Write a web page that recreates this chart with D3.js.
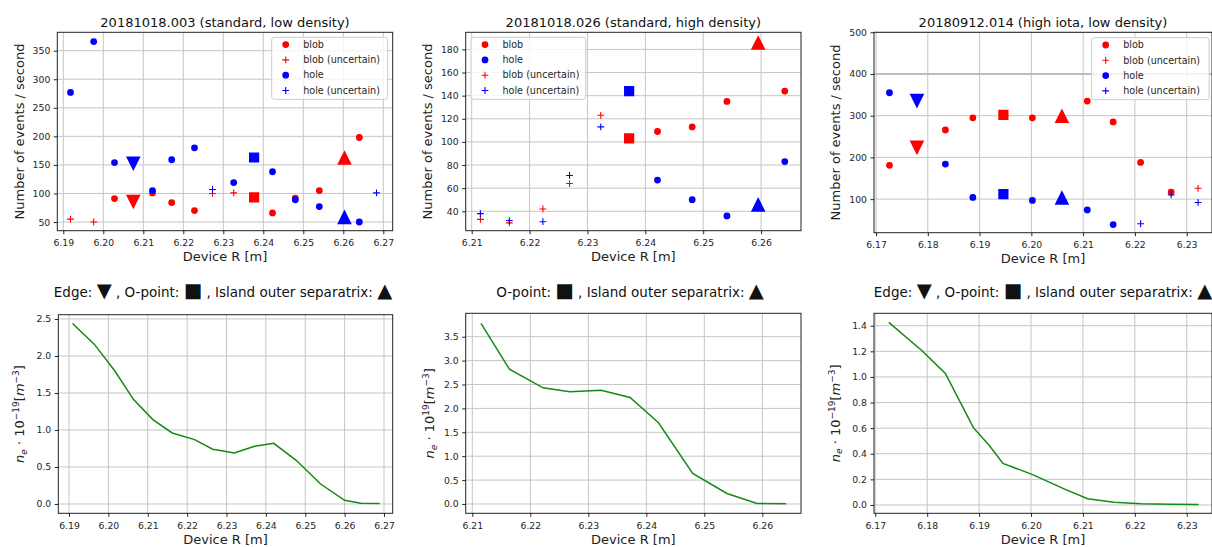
<!DOCTYPE html>
<html>
<head>
<meta charset="utf-8">
<script src="https://cdn.jsdelivr.net/npm/d3@7/dist/d3.min.js"></script>
<style>
  body { margin: 0; background: #fff; }
  svg text { font-family: "DejaVu Sans", sans-serif; }
</style>
</head>
<body>
<svg id="chart" width="1212" height="547"></svg>
<script>
// ---------------- data ----------------
// Shot 20181018.003 (standard, low density): [R (m), events / s]
const s003Blob      = [[6.2028, 91], [6.2123, 101], [6.2171, 84], [6.2228, 70], [6.2423, 66], [6.2480, 92], [6.2540, 105], [6.2640, 198]];
const s003BlobUnc   = [[6.1918, 55], [6.1976, 50], [6.2273, 100], [6.2326, 101]];
const s003Hole      = [[6.1918, 277], [6.1976, 366], [6.2028, 154], [6.2123, 105], [6.2171, 159], [6.2228, 180], [6.2326, 119], [6.2423, 138], [6.2480, 89], [6.2540, 77], [6.2640, 50]];
const s003HoleUnc   = [[6.2273, 107], [6.2683, 101]];
// special positions: [R, blob rate, hole rate]
const s003Edge      = [6.2075, 85, 152];
const s003OPoint    = [6.2377, 93, 163];
const s003Sep       = [6.2603, 163, 59];
const s003DensR     = [6.1909, 6.1964, 6.2016, 6.2064, 6.2113, 6.2162, 6.2219, 6.2265, 6.2320, 6.2371, 6.2420, 6.2477, 6.2539, 6.2600, 6.2641, 6.2689];
const s003Dens      = [2.44, 2.16, 1.80, 1.41, 1.14, 0.96, 0.87, 0.74, 0.69, 0.78, 0.82, 0.59, 0.27, 0.05, 0.01, 0.005];

// Shot 20181018.026 (standard, high density)
const s026Blob      = [[6.2421, 109], [6.2481, 113], [6.2541, 135], [6.2641, 144]];
const s026Hole      = [[6.2421, 67], [6.2481, 50], [6.2541, 36], [6.2641, 83]];
const s026BlobUnc   = [[6.2115, 33], [6.2165, 30], [6.2223, 42], [6.2269, 64], [6.2323, 123]];
const s026HoleUnc   = [[6.2115, 38], [6.2165, 32], [6.2223, 31], [6.2269, 71], [6.2323, 113]];
const s026OPoint    = [6.2372, 103, 144];
const s026Sep       = [6.2595, 186, 46];
const s026DensR     = [6.2115, 6.2164, 6.2222, 6.2268, 6.2322, 6.2372, 6.2421, 6.2480, 6.2539, 6.2591, 6.2641];
const s026Dens      = [3.78, 2.82, 2.43, 2.35, 2.38, 2.23, 1.70, 0.64, 0.22, 0.01, 0.007];

// Shot 20180912.014 (high iota, low density)
const s014Blob      = [[6.1726, 181], [6.1834, 266], [6.1887, 295], [6.2002, 295], [6.2108, 335], [6.2158, 285], [6.2211, 188], [6.2270, 117]];
const s014BlobUnc   = [[6.2322, 126]];
const s014Hole      = [[6.1726, 355], [6.1834, 184], [6.1887, 104], [6.2002, 97], [6.2108, 74], [6.2158, 39]];
const s014HoleUnc   = [[6.2211, 41], [6.2270, 110], [6.2322, 92]];
const s014Edge      = [6.1779, 223, 335];
const s014OPoint    = [6.1946, 302, 112];
const s014Sep       = [6.2059, 300, 104];
const s014RefLevel  = 400;
const s014DensR     = [6.1726, 6.1790, 6.1835, 6.1889, 6.1920, 6.1946, 6.2003, 6.2066, 6.2109, 6.2160, 6.2212, 6.2271, 6.2323];
const s014Dens      = [1.426, 1.205, 1.028, 0.604, 0.463, 0.325, 0.237, 0.122, 0.049, 0.021, 0.010, 0.005, 0.003];

// tick values
const ticksR003 = [6.19, 6.20, 6.21, 6.22, 6.23, 6.24, 6.25, 6.26, 6.27];
const ticksR026 = [6.21, 6.22, 6.23, 6.24, 6.25, 6.26];
const ticksR014 = [6.17, 6.18, 6.19, 6.20, 6.21, 6.22, 6.23];
const ticksRate003 = [50, 100, 150, 200, 250, 300, 350];
const ticksRate026 = [40, 60, 80, 100, 120, 140, 160, 180];
const ticksRate014 = [100, 200, 300, 400, 500];
const ticksDens003 = [0.0, 0.5, 1.0, 1.5, 2.0, 2.5];
const ticksDens026 = [0.0, 0.5, 1.0, 1.5, 2.0, 2.5, 3.0, 3.5];
const ticksDens014 = [0.0, 0.2, 0.4, 0.6, 0.8, 1.0, 1.2, 1.4];

const titles = ["20181018.003 (standard, low density)", "20181018.026 (standard, high density)", "20180912.014 (high iota, low density)"];

// ---------------- drawing ----------------
const RED = "#ff0000", BLUE = "#0000ff", GREEN = "#138a13";
const svg = d3.select("#chart");
let clipId = 0;

function makeAxes(box, xDomain, yDomain, xTicks, yTicks, yFmt) {
  const x = d3.scaleLinear().domain(xDomain).range([box.x0, box.x1]);
  const y = d3.scaleLinear().domain(yDomain).range([box.y1, box.y0]);
  const g = svg.append("g");
  const id = "clip" + (clipId++);
  g.append("clipPath").attr("id", id).append("rect")
    .attr("x", box.x0).attr("y", box.y0).attr("width", box.x1 - box.x0).attr("height", box.y1 - box.y0);

  const grid = g.append("g").attr("stroke", "#c6c6c6").attr("stroke-width", 1);
  grid.selectAll(".gx").data(xTicks).join("line")
    .attr("x1", d => x(d)).attr("x2", d => x(d)).attr("y1", box.y0).attr("y2", box.y1);
  grid.selectAll(".gy").data(yTicks).join("line")
    .attr("x1", box.x0).attr("x2", box.x1).attr("y1", d => y(d)).attr("y2", d => y(d));

  const xa = g.append("g").attr("transform", `translate(0,${box.y1})`)
    .call(d3.axisBottom(x).tickValues(xTicks).tickFormat(d3.format(".2f")).tickSize(3.5).tickPadding(5.5));
  const ya = g.append("g").attr("transform", `translate(${box.x0},0)`)
    .call(d3.axisLeft(y).tickValues(yTicks).tickFormat(yFmt).tickSize(3.5).tickPadding(3.5));
  [xa, ya].forEach(a => {
    a.select(".domain").remove();
    a.attr("font-family", null).attr("font-size", null);
    a.selectAll("line").attr("stroke", "#222");
    a.selectAll("text").attr("font-size", "9.3px").attr("fill", "#262626");
  });

  const plot = g.append("g").attr("clip-path", `url(#${id})`);
  const frame = () => g.append("rect")
    .attr("x", box.x0).attr("y", box.y0).attr("width", box.x1 - box.x0).attr("height", box.y1 - box.y0)
    .attr("fill", "none").attr("stroke", "#222").attr("stroke-width", 1);
  return { x, y, g, plot, box, frame };
}

// marker shapes (centred on their bounding box)
const shapes = {
  circle: r => `M${r},0A${r},${r} 0 1,1 ${-r},0A${r},${r} 0 1,1 ${r},0Z`,
  up: s => `M0,${-s}L${s},${s}L${-s},${s}Z`,
  down: s => `M0,${s}L${s},${-s}L${-s},${-s}Z`,
  square: s => `M${-s},${-s}H${s}V${s}H${-s}Z`,
  plus: h => `M${-h},0H${h}M0,${-h}V${h}`
};

function dots(ax, data, color) {
  ax.plot.append("g").selectAll("path").data(data).join("path")
    .attr("d", shapes.circle(3.4)).attr("fill", color)
    .attr("transform", d => `translate(${ax.x(d[0])},${ax.y(d[1])})`);
}
function pluses(ax, data, color) {
  ax.plot.append("g").selectAll("path").data(data).join("path")
    .attr("d", shapes.plus(3.4)).attr("stroke", color).attr("stroke-width", 1.1).attr("fill", "none")
    .attr("transform", d => `translate(${ax.x(d[0])},${ax.y(d[1])})`);
}
function special(ax, entry, shape, size) {
  const [r, blob, hole] = entry;
  [[blob, RED], [hole, BLUE]].forEach(([v, c]) => {
    ax.plot.append("path").attr("d", shapes[shape](size)).attr("fill", c)
      .attr("transform", `translate(${ax.x(r)},${ax.y(v)})`);
  });
}

function legend(ax, left, top, width, items) {
  const lg = ax.g.append("g");
  lg.append("rect").attr("x", left).attr("y", top).attr("width", width).attr("height", 62)
    .attr("rx", 2.5).attr("fill", "#fff").attr("fill-opacity", 0.8).attr("stroke", "#cccccc");
  items.forEach((it, i) => {
    const cy = top + 7.3 + i * 15.3;
    const mx = left + 14;
    if (it.kind === "dot") lg.append("path").attr("d", shapes.circle(3.4)).attr("fill", it.color).attr("transform", `translate(${mx},${cy})`);
    else lg.append("path").attr("d", shapes.plus(3.4)).attr("stroke", it.color).attr("stroke-width", 1.1).attr("fill", "none")
      .attr("transform", `translate(${mx},${cy})`);
    lg.append("text").attr("x", left + 31.5).attr("y", cy).attr("dy", "0.34em")
      .attr("font-size", "9.6px").attr("fill", "#262626").text(it.label);
  });
}

function titleText(ax, txt) {
  ax.g.append("text").attr("x", (ax.box.x0 + ax.box.x1) / 2).attr("y", ax.box.y0 - 5.8)
    .attr("text-anchor", "middle").attr("font-size", "13px").attr("fill", "#111").text(txt);
}
function xLabel(ax) {
  ax.g.append("text").attr("x", (ax.box.x0 + ax.box.x1) / 2).attr("y", ax.box.y1 + 30.5)
    .attr("text-anchor", "middle").attr("font-size", "13px").attr("fill", "#222").text("Device R [m]");
}
function yLabelRate(ax, bx) {
  ax.g.append("text").attr("transform", `translate(${bx},${(ax.box.y0 + ax.box.y1) / 2}) rotate(-90)`)
    .attr("text-anchor", "middle").attr("font-size", "13px").attr("fill", "#222").text("Number of events / second");
}
function yLabelDens(ax, bx, expo) {
  const t = ax.g.append("text").attr("transform", `translate(${bx},${(ax.box.y0 + ax.box.y1) / 2}) rotate(-90)`)
    .attr("text-anchor", "middle").attr("font-size", "13px").attr("fill", "#222");
  t.append("tspan").attr("font-style", "italic").text("n");
  t.append("tspan").attr("font-style", "italic").attr("font-size", "9px").attr("dy", 2.5).text("e");
  t.append("tspan").attr("dy", -2.5).text(" · 10");
  t.append("tspan").attr("font-size", "9px").attr("dy", -5).text(expo);
  t.append("tspan").attr("dy", 5).text("[");
  t.append("tspan").attr("font-style", "italic").text("m");
  t.append("tspan").attr("font-size", "9px").attr("dy", -5).text("−3");
  t.append("tspan").attr("dy", 5).text("]");
}
// marker key line above each density panel
function markerKey(cx, parts) {
  const t = svg.append("text").attr("x", cx).attr("y", 297).attr("text-anchor", "middle")
    .attr("font-family", "'Open Sans', sans-serif").attr("fill", "#111");
  parts.forEach(p => p.sym
    ? t.append("tspan").attr("font-family", "'DejaVu Sans'").attr("font-size", "19.5px").text(p.sym)
    : t.append("tspan").attr("font-size", "13.5px").text(p.txt));
}
function densityLine(ax, rs, vs) {
  ax.plot.append("path").datum(d3.zip(rs, vs))
    .attr("d", d3.line().x(d => ax.x(d[0])).y(d => ax.y(d[1])))
    .attr("fill", "none").attr("stroke", GREEN).attr("stroke-width", 1.5);
}

const fmtInt = d3.format("d"), fmt1 = d3.format(".1f");

// ---- top row: event rates ----
const a1 = makeAxes({ x0: 57.3, x1: 392.7, y0: 32.3, y1: 230.7 }, [6.1885, 6.27235], [34.8, 382.2], ticksR003, ticksRate003, fmtInt);
dots(a1, s003Blob, RED); pluses(a1, s003BlobUnc, RED); dots(a1, s003Hole, BLUE); pluses(a1, s003HoleUnc, BLUE);
special(a1, s003Edge, "down", 7.3); special(a1, s003OPoint, "square", 5.1); special(a1, s003Sep, "up", 7.3);
a1.frame();
legend(a1, 271.7, 37.3, 116, [
  { kind: "dot", color: RED, label: "blob" }, { kind: "plus", color: RED, label: "blob (uncertain)" },
  { kind: "dot", color: BLUE, label: "hole" }, { kind: "plus", color: BLUE, label: "hole (uncertain)" }]);
titleText(a1, titles[0]); xLabel(a1); yLabelRate(a1, 24);

const a2 = makeAxes({ x0: 465.7, x1: 801, y0: 32.3, y1: 230.7 }, [6.20896, 6.2669], [23.2, 194.8], ticksR026, ticksRate026, fmtInt);
dots(a2, s026Blob, RED); dots(a2, s026Hole, BLUE); pluses(a2, s026BlobUnc, RED); pluses(a2, s026HoleUnc, BLUE);
special(a2, s026OPoint, "square", 5.1); special(a2, s026Sep, "up", 7.3);
a2.frame();
legend(a2, 471, 37.3, 114.7, [
  { kind: "dot", color: RED, label: "blob" }, { kind: "dot", color: BLUE, label: "hole" },
  { kind: "plus", color: RED, label: "blob (uncertain)" }, { kind: "plus", color: BLUE, label: "hole (uncertain)" }]);
titleText(a2, titles[1]); xLabel(a2); yLabelRate(a2, 432);

const a3 = makeAxes({ x0: 874, x1: 1212, y0: 32.3, y1: 232.7 }, [6.16961, 6.23489], [19.5, 500], ticksR014, ticksRate014, fmtInt);
a3.plot.append("line").attr("x1", a3.box.x0).attr("x2", a3.box.x1)
  .attr("y1", a3.y(s014RefLevel)).attr("y2", a3.y(s014RefLevel)).attr("stroke", "#bdbdbd").attr("stroke-width", 2);
dots(a3, s014Blob, RED); pluses(a3, s014BlobUnc, RED); dots(a3, s014Hole, BLUE); pluses(a3, s014HoleUnc, BLUE);
special(a3, s014Edge, "down", 7.3); special(a3, s014OPoint, "square", 5.1); special(a3, s014Sep, "up", 7.3);
a3.frame();
legend(a3, 1091.7, 37.7, 117.5, [
  { kind: "dot", color: RED, label: "blob" }, { kind: "plus", color: RED, label: "blob (uncertain)" },
  { kind: "dot", color: BLUE, label: "hole" }, { kind: "plus", color: BLUE, label: "hole (uncertain)" }]);
titleText(a3, titles[2]); xLabel(a3); yLabelRate(a3, 839.5);

// ---- marker keys ----
const keyFull = [{ txt: "Edge: " }, { sym: "▼" }, { txt: " , O-point: " }, { sym: "■" }, { txt: " , Island outer separatrix: " }, { sym: "▲" }];
const keyNoEdge = [{ txt: "O-point: " }, { sym: "■" }, { txt: " , Island outer separatrix: " }, { sym: "▲" }];
markerKey(223, keyFull);
markerKey(630, keyNoEdge);
markerKey(1043, keyFull);

// ---- bottom row: density profiles ----
const b1 = makeAxes({ x0: 58.3, x1: 392.7, y0: 314.7, y1: 513.3 }, [6.18728, 6.27221], [-0.126, 2.558], ticksR003, ticksDens003, fmt1);
densityLine(b1, s003DensR, s003Dens); b1.frame(); xLabel(b1); yLabelDens(b1, 24, "−19");

const b2 = makeAxes({ x0: 465.7, x1: 801, y0: 313.3, y1: 513.3 }, [6.20886, 6.26667], [-0.195, 3.99], ticksR026, ticksDens026, fmt1);
densityLine(b2, s026DensR, s026Dens); b2.frame(); xLabel(b2); yLabelDens(b2, 434, "19");

const b3 = makeAxes({ x0: 874, x1: 1212, y0: 313.3, y1: 513.3 }, [6.16975, 6.23487], [-0.065, 1.497], ticksR014, ticksDens014, fmt1);
densityLine(b3, s014DensR, s014Dens); b3.frame(); xLabel(b3); yLabelDens(b3, 839.5, "−19");
</script>
</body>
</html>
